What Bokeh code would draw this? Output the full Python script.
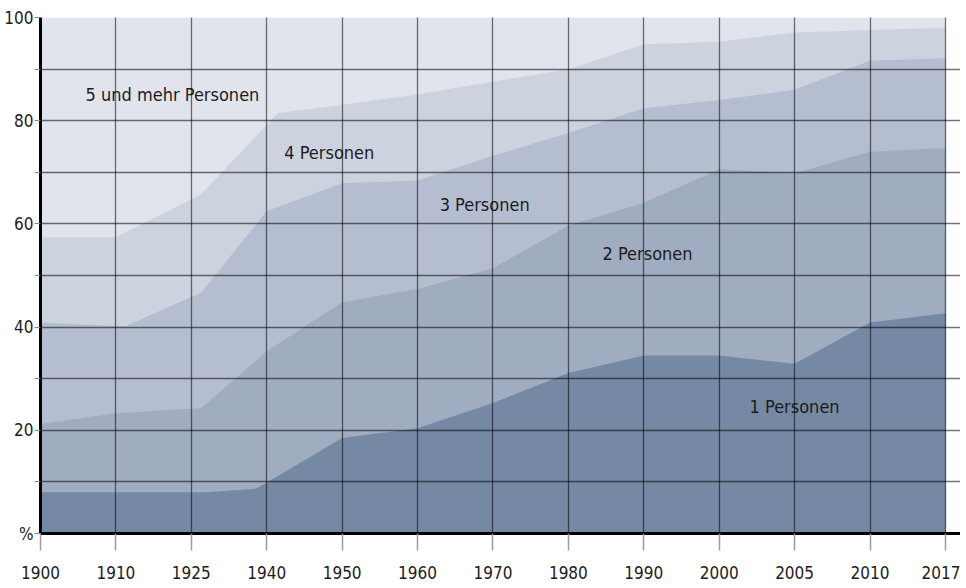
import numpy as np
from bokeh.plotting import figure
from bokeh.models import Range1d, FixedTicker
from bokeh.core.properties import value
from bokeh.embed import file_html
from bokeh.resources import INLINE

FONT = "DejaVu Sans Condensed, Roboto Condensed, Roboto"

# x-axis categories (equally spaced on the axis)
tick_years = [1900, 1910, 1925, 1940, 1950, 1960, 1970, 1980, 1990, 2000, 2005, 2010, 2017]

# cumulative shares of households (%)
years_1 = [1900, 1910, 1928, 1938, 1950, 1960, 1970, 1980, 1990, 2000, 2005, 2010, 2017]
cum_1 = [8.0, 8.0, 8.0, 8.7, 18.5, 20.4, 25.3, 31.1, 34.5, 34.5, 32.9, 40.9, 42.7]

years_2 = [1900, 1910, 1927, 1940, 1950, 1960, 1970, 1980, 1990, 2000, 2005, 2010, 2017]
cum_2 = [21.2, 23.3, 24.3, 35.3, 44.8, 47.4, 51.4, 59.7, 64.1, 70.6, 69.8, 74.0, 74.7]

years_3 = [1900, 1910, 1912, 1927, 1940, 1950, 1960, 1970, 1980, 1990, 2000, 2005, 2010, 2017]
cum_3 = [40.9, 40.2, 40.2, 46.7, 62.5, 67.9, 68.4, 73.2, 77.6, 82.4, 84.0, 86.0, 91.6, 92.1]

years_4 = [1900, 1910, 1927, 1941.5, 1950, 1960, 1970, 1980, 1990, 2000, 2005, 2010, 2017]
cum_4 = [57.4, 57.4, 65.8, 81.5, 83.1, 85.1, 87.6, 89.9, 94.8, 95.3, 97.1, 97.6, 98.0]

years_5 = tick_years
cum_5 = [100.0] * len(tick_years)

series_names = ["1 Personen", "2 Personen", "3 Personen", "4 Personen", "5 und mehr Personen"]
colors = ["#7589a5", "#a0adc0", "#b5bed0", "#ccd2de", "#e1e4ed"]

y_ticks = [0, 20, 40, 60, 80, 100]
y_labels = ["%", "20", "40", "60", "80", "100"]
y_minor = [10, 30, 50, 70, 90]

idx = np.arange(len(tick_years))


def to_x(years):
    return np.interp(years, tick_years, idx)


p = figure(width=960, height=584, output_backend="svg", toolbar_location=None,
           x_range=Range1d(0, 12.2), y_range=Range1d(0, 100),
           min_border_left=40, min_border_right=0, min_border_top=17, min_border_bottom=51)
p.outline_line_color = None
p.background_fill_color = "white"

layers = [(years_5, cum_5), (years_4, cum_4), (years_3, cum_3), (years_2, cum_2), (years_1, cum_1)]
for (yrs, vals), col in zip(layers, colors[::-1]):
    p.varea(x=to_x(yrs), y1=0, y2=vals, fill_color=col, fill_alpha=1.0)

# series labels
lab_x = [10.0, 8.05, 5.89, 3.83, 1.75]
lab_y = [24.6, 54.2, 63.7, 73.9, 85.1]
p.text(x=lab_x, y=lab_y, text=series_names, text_align="center", text_baseline="middle",
       text_font=value(FONT), text_font_size="18px", text_color="#1c1c1c")

# axes
xt = FixedTicker(ticks=list(idx))
p.xaxis.ticker = xt
p.xaxis.major_label_overrides = {int(i): str(y) for i, y in zip(idx, tick_years)}
p.xaxis.axis_line_width = 3
p.xaxis.axis_line_color = "black"
p.xaxis.major_tick_out = 17
p.xaxis.major_tick_in = 0
p.xaxis.major_tick_line_color = "#9a9a9a"
p.xaxis.major_tick_line_width = 1.5
p.xaxis.minor_tick_line_color = None
p.xaxis.major_label_standoff = 15
p.xaxis.major_label_text_font = FONT
p.xaxis.major_label_text_font_size = "17px"
p.xaxis.major_label_text_color = "#1c1c1c"

yt = FixedTicker(ticks=y_ticks, minor_ticks=y_minor)
p.yaxis.ticker = yt
p.yaxis.major_label_overrides = {t: l for t, l in zip(y_ticks, y_labels)}
p.yaxis.axis_line_width = 3
p.yaxis.axis_line_color = "black"
p.yaxis.major_tick_out = 6
p.yaxis.major_tick_in = 0
p.yaxis.minor_tick_out = 6
p.yaxis.minor_tick_in = 0
p.yaxis.major_tick_line_color = "#8a8a8a"
p.yaxis.minor_tick_line_color = "#8a8a8a"
p.yaxis.major_label_standoff = 1
p.yaxis.major_label_text_font = FONT
p.yaxis.major_label_text_font_size = "17px"
p.yaxis.major_label_text_color = "#1c1c1c"

# grid on top of the areas
p.xgrid.ticker = xt
p.xgrid.level = "overlay"
p.xgrid.grid_line_color = "black"
p.xgrid.grid_line_alpha = 0.55
p.xgrid.grid_line_width = 1.3

p.ygrid.ticker = yt
p.ygrid.level = "overlay"
p.ygrid.grid_line_color = "black"
p.ygrid.grid_line_alpha = 0.55
p.ygrid.grid_line_width = 1.3
p.ygrid.minor_grid_line_color = "black"
p.ygrid.minor_grid_line_alpha = 0.55
p.ygrid.minor_grid_line_width = 1.3

open("out.html", "w").write(file_html(p, INLINE))
